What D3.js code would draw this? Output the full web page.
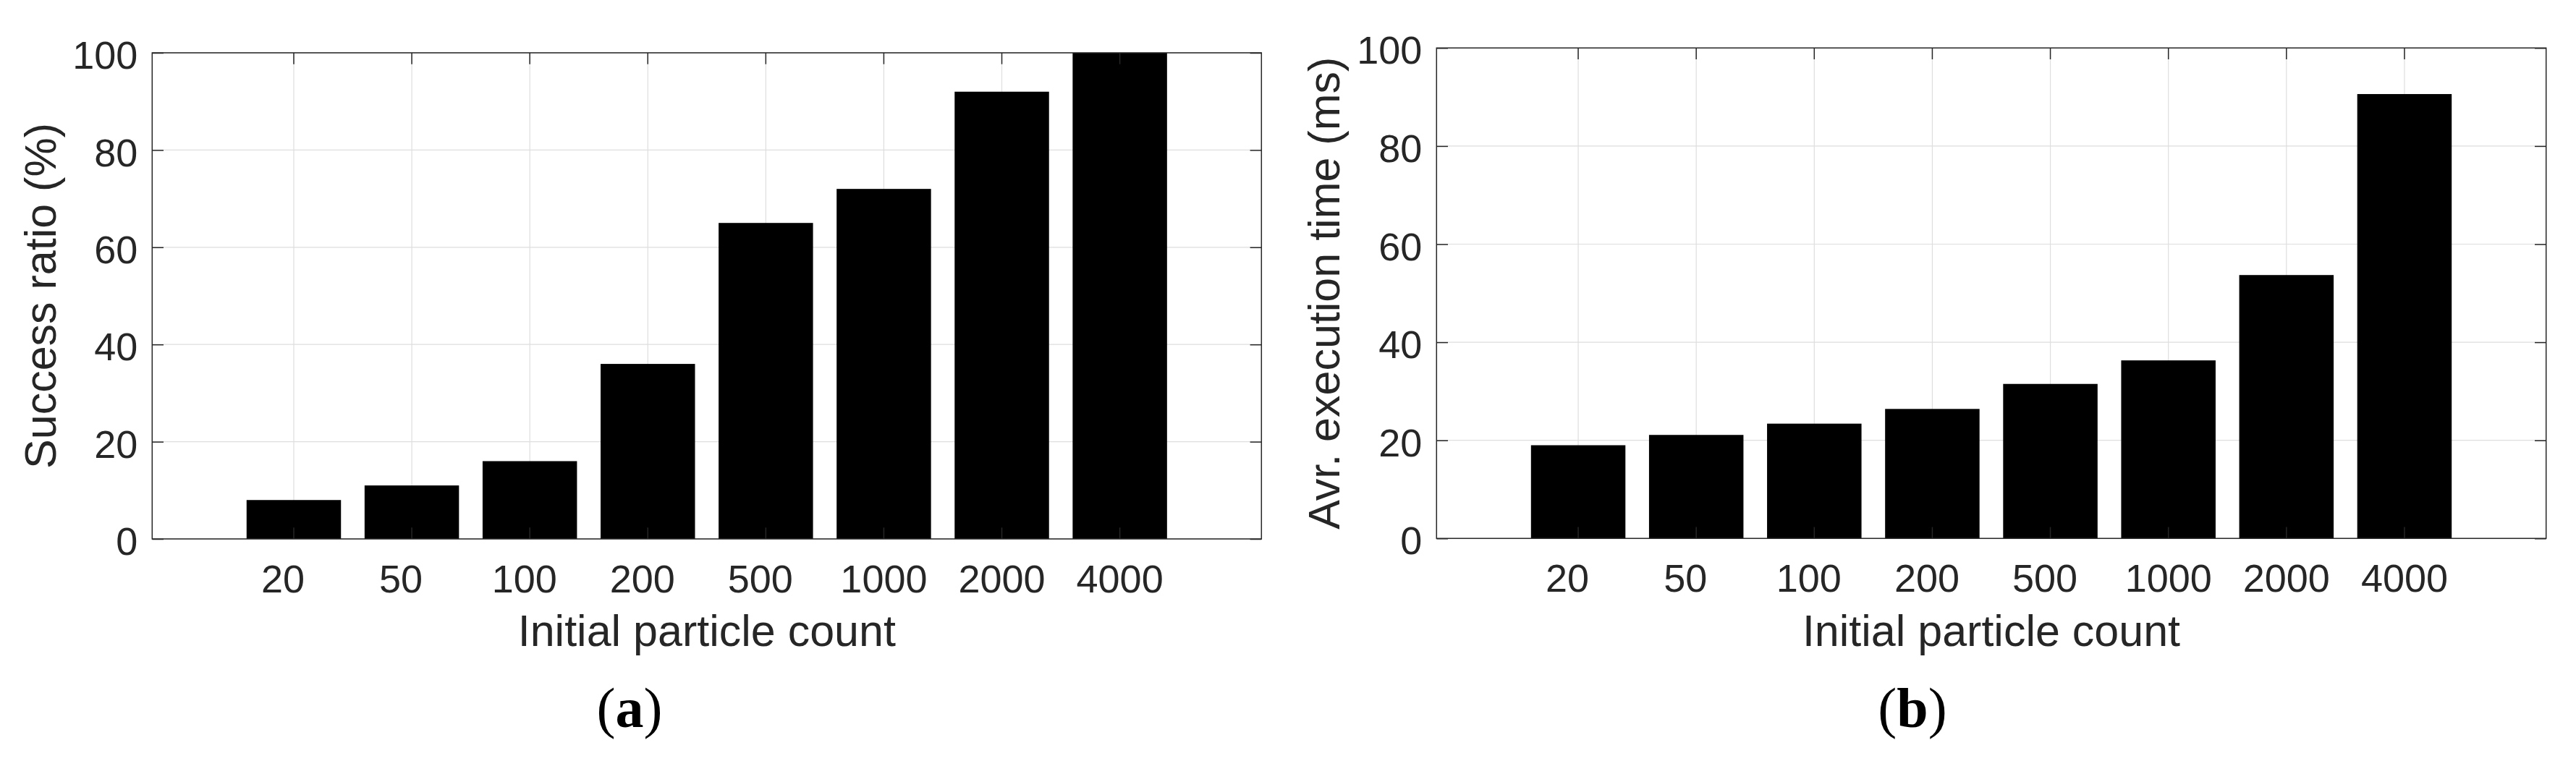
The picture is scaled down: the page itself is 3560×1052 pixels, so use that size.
<!DOCTYPE html>
<html>
<head>
<meta charset="utf-8">
<script src="https://cdn.jsdelivr.net/npm/d3@7"></script>
<style>
  html, body { margin: 0; padding: 0; background: #fff; }
  svg { display: block; }
</style>
</head>
<body>
<svg id="chart" width="3560" height="1052"></svg>
<script>
// ---- data ----
const categories = ["20", "50", "100", "200", "500", "1000", "2000", "4000"];
const successRatio = [8, 11, 16, 36, 65, 72, 92, 100];
const execTime = [19, 21.1, 23.4, 26.4, 31.5, 36.3, 53.7, 90.6];
const yTicks = [0, 20, 40, 60, 80, 100];
const xLabel = "Initial particle count";
const yLabelA = "Success ratio (%)";
const yLabelB = "Avr. execution time (ms)";
const captionA = "a";
const captionB = "b";

// ---- layout ----
const svg = d3.select("#chart");
const AX = "#262626", GRID = "#dedede";
const tickFont = 54, labelFont = 61, capFont = 78;
const tickLen = 15.7;

const panels = [
  { left: 210.3, right: 1743.3, top: 73, bottom: 745, values: successRatio, ylabel: yLabelA, ylabelX: 77.3, cap: captionA, capX: 870 },
  { left: 1985.3, right: 3518.7, top: 66.3, bottom: 744.3, values: execTime, ylabel: yLabelB, ylabelX: 1850.7, cap: captionB, capX: 2643 }
];

panels.forEach(p => {
  const g = svg.append("g");
  const x = d3.scaleBand().domain(categories).range([p.left, p.right]).paddingInner(0.2).paddingOuter(0.8);
  const y = d3.scaleLinear().domain([0, 100]).range([p.bottom, p.top]);
  const cx = c => x(c) + x.bandwidth() / 2;

  // grid
  g.append("g").selectAll("line.hg").data(yTicks).join("line")
    .attr("x1", p.left).attr("x2", p.right)
    .attr("y1", d => y(d)).attr("y2", d => y(d))
    .attr("stroke", GRID).attr("stroke-width", 1.2);
  g.append("g").selectAll("line.vg").data(categories).join("line")
    .attr("x1", cx).attr("x2", cx)
    .attr("y1", p.top).attr("y2", p.bottom)
    .attr("stroke", GRID).attr("stroke-width", 1.2);

  // bars
  g.append("g").selectAll("rect").data(p.values).join("rect")
    .attr("x", (d, i) => x(categories[i]))
    .attr("width", x.bandwidth())
    .attr("y", d => y(d))
    .attr("height", d => y(0) - y(d))
    .attr("fill", "#000");

  // y axis via d3 axis (left), ticks inward
  const yAxis = d3.axisLeft(y).tickValues(yTicks).tickSize(-tickLen).tickPadding(20).tickSizeOuter(0);
  const ya = g.append("g").attr("transform", `translate(${p.left},0)`).call(yAxis);
  ya.select(".domain").remove();
  ya.selectAll("line").attr("stroke", AX).attr("stroke-width", 1.5);
  ya.selectAll("text").attr("fill", AX).attr("font-size", tickFont)
    .attr("font-family", "'Liberation Sans', Arial, Helvetica, sans-serif")
    .attr("x", -20)
    .attr("dy", "0.4em");

  // right ticks
  const yr = d3.axisRight(y).tickValues(yTicks).tickSize(-tickLen).tickFormat("").tickSizeOuter(0);
  const yra = g.append("g").attr("transform", `translate(${p.right},0)`).call(yr);
  yra.select(".domain").remove();
  yra.selectAll("line").attr("stroke", AX).attr("stroke-width", 1.5);

  // x axis bottom
  const xAxis = d3.axisBottom(x).tickSize(-tickLen).tickPadding(0).tickSizeOuter(0);
  const xa = g.append("g").attr("transform", `translate(0,${p.bottom})`).call(xAxis);
  xa.select(".domain").remove();
  xa.selectAll("line").attr("stroke", AX).attr("stroke-width", 1.5);
  xa.selectAll("text").attr("fill", AX).attr("font-size", tickFont)
    .attr("font-family", "'Liberation Sans', Arial, Helvetica, sans-serif")
    .attr("y", 74).attr("dy", 0)
    .attr("dx", d => -(4 - d.length) * 0.278 * tickFont / 2);

  // x axis top ticks
  const xt = d3.axisTop(x).tickSize(-tickLen).tickFormat("").tickSizeOuter(0);
  const xta = g.append("g").attr("transform", `translate(0,${p.top})`).call(xt);
  xta.select(".domain").remove();
  xta.selectAll("line").attr("stroke", AX).attr("stroke-width", 1.5);

  // box
  g.append("rect").attr("x", p.left).attr("y", p.top)
    .attr("width", p.right - p.left).attr("height", p.bottom - p.top)
    .attr("fill", "none").attr("stroke", AX).attr("stroke-width", 1.5);

  // labels
  g.append("text").attr("x", (p.left + p.right) / 2).attr("y", 893)
    .attr("text-anchor", "middle").attr("fill", AX).attr("font-size", labelFont)
    .attr("font-family", "'Liberation Sans', Arial, Helvetica, sans-serif")
    .text(xLabel);
  g.append("text")
    .attr("transform", `translate(${p.ylabelX},${(p.top + p.bottom) / 2}) rotate(-90)`)
    .attr("text-anchor", "middle").attr("fill", AX).attr("font-size", labelFont)
    .attr("font-family", "'Liberation Sans', Arial, Helvetica, sans-serif")
    .text(p.ylabel);

  // caption
  const cap = g.append("text").attr("x", p.capX).attr("y", 1005)
    .attr("text-anchor", "middle").attr("fill", "#000").attr("font-size", capFont)
    .attr("font-family", "'Liberation Serif', 'Times New Roman', serif");
  cap.append("tspan").text("(");
  cap.append("tspan").attr("font-weight", "bold").text(p.cap);
  cap.append("tspan").text(")");
});
</script>
</body>
</html>
